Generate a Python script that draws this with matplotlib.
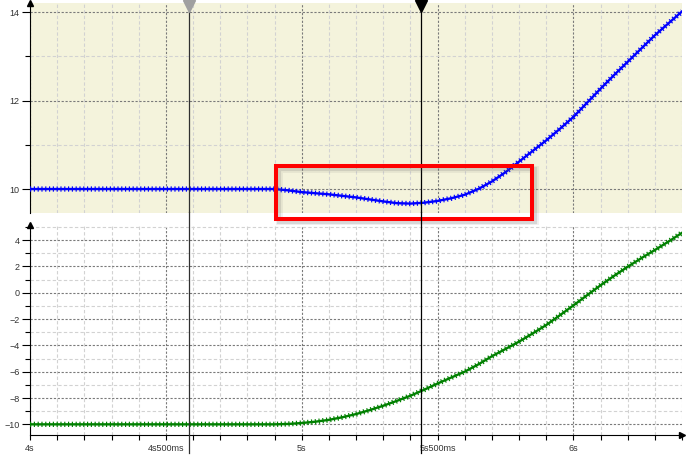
import matplotlib
matplotlib.use('Agg')
import matplotlib.pyplot as plt
from matplotlib.patches import Rectangle
from matplotlib.ticker import MultipleLocator, FixedLocator

plt.rcParams['font.family'] = ['Liberation Sans', 'DejaVu Sans']

# time axis (seconds) and the two traces
t_blue = [4.0, 4.9, 4.95, 5.0, 5.1, 5.2, 5.3, 5.35, 5.4, 5.45, 5.5, 5.55, 5.6,
          5.65, 5.7, 5.75, 5.8, 5.85, 5.9, 5.95, 6.0, 6.05, 6.1, 6.15, 6.2,
          6.25, 6.3, 6.35, 6.4]
blue = [10.0, 10.0, 9.97, 9.93, 9.88, 9.81, 9.72, 9.68, 9.67, 9.69, 9.73, 9.79, 9.87,
        10.0, 10.17, 10.38, 10.62, 10.86, 11.10, 11.36, 11.63, 11.95, 12.27, 12.58, 12.88,
        13.18, 13.48, 13.75, 14.02]

t_green = [4.0, 4.9, 4.95, 5.0, 5.05, 5.1, 5.15, 5.2, 5.25, 5.3, 5.35, 5.4, 5.45,
           5.5, 5.55, 5.6, 5.65, 5.7, 5.75, 5.8, 5.85, 5.9, 5.95, 6.0, 6.05,
           6.1, 6.15, 6.2, 6.25, 6.3, 6.35, 6.4]
green = [-10.0, -10.0, -9.97, -9.9, -9.8, -9.66, -9.46, -9.22, -8.92, -8.59, -8.22, -7.83, -7.38,
         -6.9, -6.45, -6.0, -5.45, -4.83, -4.28, -3.72, -3.1, -2.46, -1.72, -0.97, -0.2,
         0.56, 1.28, 1.97, 2.62, 3.24, 3.88, 4.55]

x_ticks = [4.0, 4.5, 5.0, 5.5, 6.0]
x_labels = ['4s', '4s500ms', '5s', '5s500ms', '6s']

cursors = [4.585, 5.4375]
cursor_colors = ['#303030', 'black']
cursor_marker_colors = ['#a0a0a0', 'black']

# highlight box (top panel data coordinates)
box_t = (4.904, 5.849)
box_v = (9.33, 10.51)

fig = plt.figure(figsize=(6.87, 4.58), dpi=100)
ax1 = fig.add_axes([0.04367, 0.5349, 0.9491, 0.4585])
ax2 = fig.add_axes([0.04367, 0.0502, 0.9491, 0.4585])

label_color = '#333333'

def style_axes(ax, ylo, yhi, major, minor):
    ax.set_xlim(4.0, 6.4)
    ax.set_ylim(ylo, yhi)
    ax.xaxis.set_major_locator(FixedLocator(x_ticks))
    ax.xaxis.set_minor_locator(MultipleLocator(0.1))
    ax.yaxis.set_major_locator(MultipleLocator(major))
    ax.yaxis.set_minor_locator(MultipleLocator(minor))
    ax.grid(which='major', color='#7a7a7a', linestyle=(0, (2, 1.5)), linewidth=0.8)
    ax.grid(which='minor', color='#d2d2d2', linestyle=(0, (3, 2)), linewidth=0.8)
    ax.set_axisbelow(True)
    for s in ['top', 'right']:
        ax.spines[s].set_visible(False)
    ax.spines['left'].set_color('black')
    ax.tick_params(axis='y', which='major', length=6, width=0.8, pad=1.5,
                   labelsize=6.5, labelcolor=label_color)
    ax.tick_params(axis='y', which='minor', length=3.5, width=0.8)
    ax.plot(0, 1, marker='^', color='black', markersize=4, transform=ax.transAxes,
            clip_on=False)

style_axes(ax1, 9.457, 14.21, 2, 1)
style_axes(ax2, -10.81, 5.14, 2, 1)

ax1.set_facecolor('#f4f3dc')
ax1.spines['bottom'].set_visible(False)
ax1.tick_params(axis='x', which='both', bottom=False, labelbottom=False)

ax2.set_xticklabels(x_labels)
ax2.tick_params(axis='x', which='both', length=3.5, width=0.8, pad=3,
                labelsize=6.5, labelcolor=label_color)
ax2.plot(1, 0, marker='>', color='black', markersize=4, transform=ax2.transAxes,
         clip_on=False)

# traces: solid core plus short thick dashes to mimic the "+" sample markers
ax1.plot(t_blue, blue, color='#0000ff', linewidth=1.7, zorder=3)
ax1.plot(t_blue, blue, color='#0000ff', linewidth=3.8, linestyle=(0, (0.22, 0.5)),
         zorder=3)
ax2.plot(t_green, green, color='#008000', linewidth=1.7, zorder=3)
ax2.plot(t_green, green, color='#008000', linewidth=3.8, linestyle=(0, (0.22, 0.5)),
         zorder=3)

# cursor lines spanning both panels and the gaps
for x, c, mc in zip(cursors, cursor_colors, cursor_marker_colors):
    ax1.axvline(x, color=c, linewidth=0.9, zorder=4)
    ax2.axvline(x, ymin=-0.086, ymax=1.06, color=c, linewidth=0.9, zorder=4,
                clip_on=False)
    ax1.plot(x, 0.985, marker='v', color=mc, markersize=8,
             transform=ax1.get_xaxis_transform(), clip_on=False, zorder=5)

# red highlight box with soft drop shadow
w = box_t[1] - box_t[0]
h = box_v[1] - box_v[0]
for off, lw, a in [(0.011, 5, 0.08), (0.011, 3, 0.16)]:
    ax1.add_patch(Rectangle((box_t[0] + off, box_v[0] - off * 6), w, h, fill=False,
                            edgecolor='#555555', linewidth=lw, alpha=a,
                            clip_on=False, zorder=5))
ax1.add_patch(Rectangle((box_t[0], box_v[0]), w, h, fill=False, edgecolor='#ff0000',
                        linewidth=2.9, clip_on=False, zorder=6))

fig.savefig('out.png', dpi=100, facecolor='white')
